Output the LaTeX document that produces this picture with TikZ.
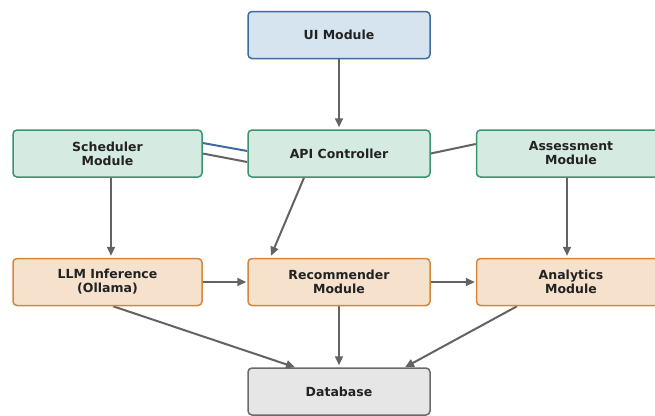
\documentclass[tikz,border=0pt]{standalone}
\usepackage{fontspec}
\setmainfont{DejaVu Sans}
\usetikzlibrary{arrows.meta,calc,backgrounds}
\definecolor{uifill}{HTML}{D6E4F0}
\definecolor{uidraw}{HTML}{3F6A9C}
\definecolor{gfill}{HTML}{D5EBE2}
\definecolor{gdraw}{HTML}{3A9470}
\definecolor{ofill}{HTML}{F5E1CC}
\definecolor{odraw}{HTML}{D4873C}
\definecolor{dfill}{HTML}{E6E6E6}
\definecolor{ddraw}{HTML}{6A6A6A}
\definecolor{arr}{HTML}{636363}
\definecolor{txt}{HTML}{222222}
\definecolor{blueline}{HTML}{3F6A9C}
\tikzset{
  box/.style={rectangle, rounded corners=4pt, line width=1.5pt, minimum height=47pt,
    align=center, font=\bfseries\fontsize{12.5}{14}\selectfont, text=txt},
  wide/.style={box, minimum width=182pt},
  side/.style={box, minimum width=189pt},
  bluebox/.style={fill=uifill, draw=uidraw},
  greenbox/.style={fill=gfill, draw=gdraw},
  orangebox/.style={fill=ofill, draw=odraw},
  greybox/.style={fill=dfill, draw=ddraw},
  conn/.style={draw=arr, line width=2pt, -{Triangle[length=9pt,width=8pt]}},
  plain/.style={draw=arr, line width=2pt},
}
\begin{document}
\begin{tikzpicture}[x=1pt,y=-1pt]
\useasboundingbox (0,0) rectangle (655,415);
\clip (0,0) rectangle (655,415);
\node[wide, bluebox] (ui) at (339,35) {UI Module};
\node[side, greenbox] (sched) at (107.5,153.5) {Scheduler\\Module};
\node[wide, greenbox] (api) at (339,153.5) {API Controller};
\node[side, greenbox] (assess) at (571,153.5) {Assessment\\Module};
\node[side, orangebox] (llm) at (107.5,282) {LLM Inference\\(Ollama)};
\node[wide, orangebox] (rec) at (339,282) {Recommender\\Module};
\node[side, orangebox] (ana) at (571,282) {Analytics\\Module};
\node[wide, greybox] (db) at (339,391.5) {Database};
\begin{pgfonlayer}{background}
% connectors between Scheduler/Assessment and API (behind boxes)
\draw[draw=blueline, line width=2pt] ([yshift=10.5pt]sched.east) -- ([yshift=2.5pt]api.west);
\draw[plain] ([yshift=0pt]sched.east) -- ([yshift=-8.5pt]api.west);
\draw[plain] ([yshift=9.5pt]assess.west) -- (api.east);
% arrows
\draw[conn] (ui.south) -- ([yshift=2pt]api.north);
\draw[conn] ([xshift=3.5pt]sched.south) -- ([xshift=3.5pt,yshift=2pt]llm.north);
\draw[conn] ([xshift=-35pt]api.south) -- ([xshift=-68pt,yshift=2pt]rec.north);
\draw[conn] ([xshift=-4pt]assess.south) -- ([xshift=-4pt,yshift=2pt]ana.north);
\draw[conn] (llm.east) -- ([xshift=-1pt]rec.west);
\draw[conn] (rec.east) -- ([xshift=-1pt]ana.west);
\draw[conn] ([xshift=5.5pt]llm.south) -- ([xshift=-44pt]db.north);
\draw[conn] (rec.south) -- ([yshift=2pt]db.north);
\draw[conn] ([xshift=-54pt]ana.south) -- ([xshift=66pt]db.north);
\end{pgfonlayer}
\end{tikzpicture}
\end{document}
